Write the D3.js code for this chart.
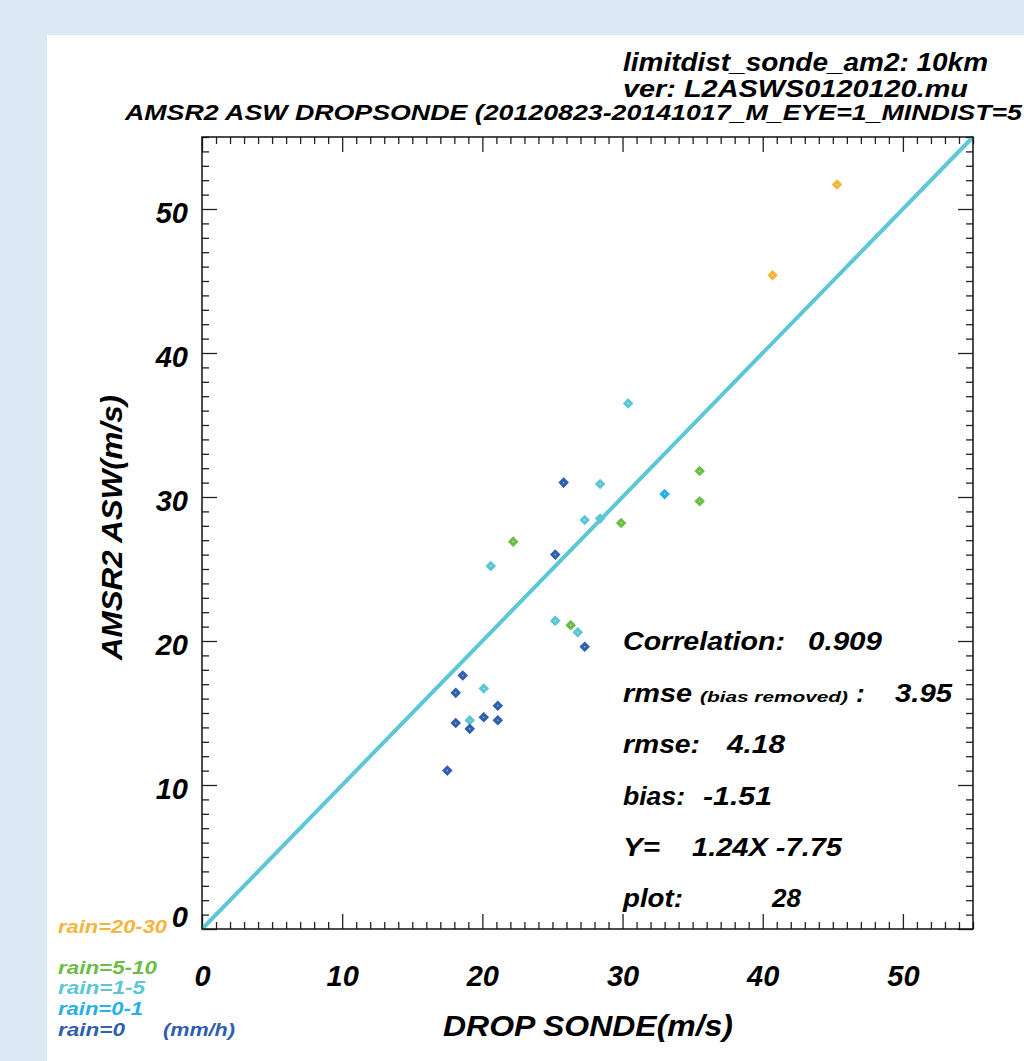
<!DOCTYPE html>
<html>
<head>
<meta charset="utf-8">
<script src="https://cdn.jsdelivr.net/npm/d3@7"></script>
<style>
  html, body { margin: 0; padding: 0; background: #dce9f5; }
  svg { display: block; }
  text { font-family: "Liberation Sans", Arial, Helvetica, sans-serif; font-weight: bold; font-style: italic; }
</style>
</head>
<body>
<svg id="chart"></svg>
<script>
// data: drop sonde (x) vs AMSR2 ASW (y), grouped by rain rate
var rainLabels = ["rain=20-30", "rain=5-10", "rain=1-5", "rain=0-1", "rain=0"];
var rainColors = ["#f5b43a", "#6bbd45", "#5cc6d4", "#27afe6", "#2f5fae"];

var rain2030X = [45.3, 40.7];
var rain2030Y = [51.7, 45.4];
var rain510X = [35.5, 35.5, 29.9, 22.2, 26.3];
var rain510Y = [31.8, 29.7, 28.2, 26.9, 21.1];
var rain15X = [30.4, 28.4, 27.3, 28.4, 20.6, 25.2, 26.8, 20.1, 19.1];
var rain15Y = [36.5, 30.9, 28.4, 28.5, 25.2, 21.4, 20.6, 16.7, 14.5];
var rain01X = [33.0];
var rain01Y = [30.2];
var rain0X = [25.8, 25.2, 27.3, 18.6, 18.1, 21.1, 18.1, 19.1, 20.1, 21.1, 17.5];
var rain0Y = [31.0, 26.0, 19.6, 17.6, 16.4, 15.5, 14.3, 13.9, 14.7, 14.5, 11.0];

var majorTicks = [0, 10, 20, 30, 40, 50];
var statsLines = [
  ["Correlation:", "0.909"],
  ["rmse", "3.95"],
  ["rmse:", "4.18"],
  ["bias:", "-1.51"],
  ["Y=", "1.24X -7.75"],
  ["plot:", "28"]
];

var width = 1024, height = 1061;
var svg = d3.select("#chart").attr("width", width).attr("height", height);

// white page panel
svg.append("rect").attr("x", 47).attr("y", 35).attr("width", width - 47).attr("height", height - 35)
  .attr("fill", "#ffffff");

var plot = {left: 202, right: 973, top: 137, bottom: 929};
var x = d3.scaleLinear().domain([0, 55]).range([plot.left, plot.right]);
var y = d3.scaleLinear().domain([0, 55]).range([plot.bottom, plot.top]);
var minor = d3.range(0, 56, 1).filter(function(v){ return v % 10 !== 0; });

// fixed-width text helper (the original font is a condensed IDL one)
function fitText(parent, tx, ty, size, len, str) {
  var t = parent.append("text").attr("x", tx).attr("y", ty).attr("font-size", size).text(str);
  if (len) t.attr("textLength", len).attr("lengthAdjust", "spacingAndGlyphs");
  return t;
}

// titles
fitText(svg, 623, 71, 25, 365, "limitdist_sonde_am2: 10km");
fitText(svg, 623, 97, 24, 345, "ver: L2ASWS0120120.mu");
fitText(svg, 125, 120, 22, 897, "AMSR2 ASW DROPSONDE (20120823-20141017_M_EYE=1_MINDIST=5");

var g = svg.append("g");

// ticks on all four sides, pointing inwards
function tickAxis(axisFn, scale, vals, size, tx, ty) {
  var a = axisFn(scale).tickValues(vals).tickSizeInner(size).tickSizeOuter(0).tickFormat("");
  var sel = g.append("g").attr("transform", "translate(" + tx + "," + ty + ")").call(a);
  sel.select(".domain").remove();
  sel.selectAll("line").attr("stroke", "#222").attr("stroke-width", 1.3);
  return sel;
}
tickAxis(d3.axisBottom, x, majorTicks, -15, 0, plot.bottom);
tickAxis(d3.axisBottom, x, minor, -7, 0, plot.bottom);
tickAxis(d3.axisTop, x, majorTicks, -15, 0, plot.top);
tickAxis(d3.axisTop, x, minor, -7, 0, plot.top);
tickAxis(d3.axisLeft, y, majorTicks, -15, plot.left, 0);
tickAxis(d3.axisLeft, y, minor, -7, plot.left, 0);
tickAxis(d3.axisRight, y, majorTicks, -15, plot.right, 0);
tickAxis(d3.axisRight, y, minor, -7, plot.right, 0);

// tick labels
var xl = g.append("g").attr("transform", "translate(0," + plot.bottom + ")")
  .call(d3.axisBottom(x).tickValues(majorTicks).tickSize(0).tickPadding(36).tickFormat(d3.format("d")));
xl.select(".domain").remove();
xl.selectAll("text").attr("font-size", 29).attr("fill", "#000").attr("font-family", null);

var yl = g.append("g").attr("transform", "translate(" + plot.left + ",0)")
  .call(d3.axisLeft(y).tickValues(majorTicks).tickSize(0).tickPadding(14).tickFormat(d3.format("d")));
yl.select(".domain").remove();
yl.selectAll("text").attr("font-size", 29).attr("fill", "#000").attr("font-family", null)
  .attr("dy", function(d){ return d === 0 ? "-0.08em" : "0.45em"; });

// points
var groups = [
  {x: rain2030X, y: rain2030Y, c: rainColors[0]},
  {x: rain510X, y: rain510Y, c: rainColors[1]},
  {x: rain15X, y: rain15Y, c: rainColors[2]},
  {x: rain01X, y: rain01Y, c: rainColors[3]},
  {x: rain0X, y: rain0Y, c: rainColors[4]}
];
var diamond = d3.symbol().type(d3.symbolSquare).size(56);
groups.forEach(function(grp) {
  var pts = grp.x.map(function(v, i){ return [v, grp.y[i]]; });
  var pg = g.append("g");
  pg.selectAll("path").data(pts).enter().append("path")
    .attr("d", diamond)
    .attr("transform", function(d){ return "translate(" + x(d[0]) + "," + y(d[1]) + ") rotate(45)"; })
    .attr("fill", grp.c);
  pg.selectAll("circle").data(pts).enter().append("circle")
    .attr("cx", function(d){ return x(d[0]); }).attr("cy", function(d){ return y(d[1]); })
    .attr("r", 0.8).attr("fill", "#fff").attr("opacity", 0.6);
});

// 1:1 line
g.append("line")
  .attr("x1", x(0)).attr("y1", y(0)).attr("x2", x(55)).attr("y2", y(55))
  .attr("stroke", "#5cc8d6").attr("stroke-width", 4);

// frame
g.append("rect").attr("x", plot.left).attr("y", plot.top)
  .attr("width", plot.right - plot.left).attr("height", plot.bottom - plot.top)
  .attr("fill", "none").attr("stroke", "#111").attr("stroke-width", 1.5);

// axis titles
fitText(svg, 443, 1036, 29, 290, "DROP SONDE(m/s)");
svg.append("text").attr("transform", "translate(122,660) rotate(-90)").attr("font-size", 29)
  .attr("textLength", 265).attr("lengthAdjust", "spacingAndGlyphs")
  .text("AMSR2 ASW(m/s)");

// statistics block
var statsBase = [650, 702, 753, 805, 856, 907];
var statsLabelW = [162, 69, 77, 62, 37, 60];
var statsValueX = [808, 895, 727, 703, 692, 772];
var statsValueW = [74, 57, 58, 69, 150, 0];
var st = svg.append("g");
statsLines.forEach(function(s, i) {
  fitText(st, 623, statsBase[i], 26, statsLabelW[i], s[0]);
  fitText(st, statsValueX[i], statsBase[i], 26, statsValueW[i], s[1]);
});
fitText(st, 700, statsBase[1], 15, 148, "(bias removed)");
st.append("text").attr("x", 856).attr("y", statsBase[1]).attr("font-size", 26).text(":");

// rain legend
var legBase = [933, 974, 994, 1015, 1036];
var legW = [109, 99, 87, 85, 67];
var lg = svg.append("g");
rainLabels.forEach(function(t, i) {
  fitText(lg, 58, legBase[i], 18, legW[i], t).attr("fill", rainColors[i]);
});
fitText(lg, 163, legBase[4], 18, 72, "(mm/h)").attr("fill", rainColors[4]);
</script>
</body>
</html>
